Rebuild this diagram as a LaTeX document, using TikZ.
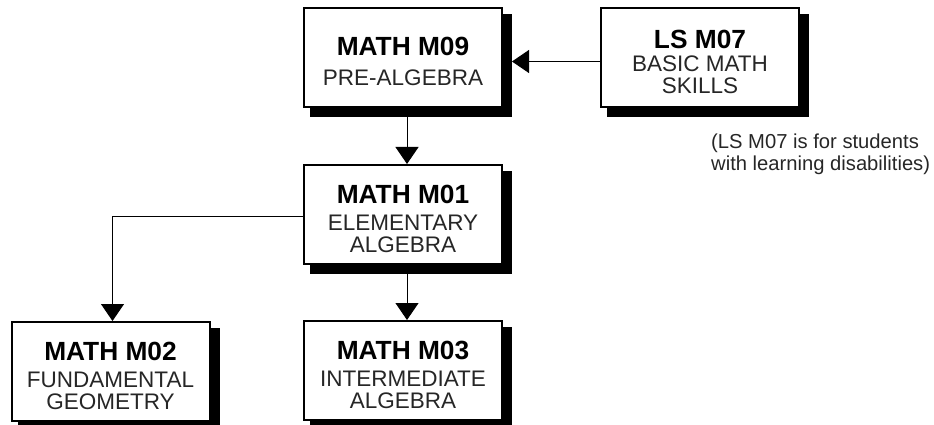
\documentclass[tikz,border=0pt]{standalone}
\usepackage{fontspec}
\setmainfont{Liberation Sans}
\usetikzlibrary{arrows.meta,backgrounds}
\tikzset{
  course/.style={draw=black, line width=2pt, fill=white, minimum width=198pt, minimum height=99pt,
    inner sep=0pt, align=center, font=\fontsize{22.5}{22}\selectfont\color{black!85}},
  shade/.style={fill=black, draw=black, line width=2pt},
  conn/.style={line width=1pt, -{Triangle[length=17pt,width=23pt]}},
  note/.style={align=left, inner sep=0pt, font=\fontsize{20.2}{22}\selectfont\color{black!85}}
}
\newcommand{\ctitle}[1]{{\fontsize{26.3}{22}\selectfont\bfseries\color{black}\rule{0pt}{27pt}#1}}
\begin{document}
\begin{tikzpicture}[x=1pt,y=-1pt]
\useasboundingbox (0,0) rectangle (934,425);
\node[course] (m09) at (403,57.5) {\ctitle{MATH M09}\\[8pt]PRE-ALGEBRA};
\node[course] (ls) at (700,57.5) {\ctitle{LS M07}\\[1pt]BASIC MATH\\SKILLS};
\node[course] (m01) at (403,214.5) {\ctitle{MATH M01}\\[5pt]ELEMENTARY\\ALGEBRA};
\node[course] (m03) at (403,370.5) {\ctitle{MATH M03}\\[5pt]INTERMEDIATE\\ALGEBRA};
\node[course] (m02) at (110.5,371.5) {\ctitle{MATH M02}\\[5pt]FUNDAMENTAL\\GEOMETRY};
\begin{scope}[on background layer]
\foreach \n in {m09,ls,m01,m03,m02}
  \filldraw[shade] ([xshift=8pt,yshift=-8pt]\n.south west) rectangle ([xshift=8pt,yshift=-8pt]\n.north east);
\end{scope}
\node[note, anchor=north west] (nt) at (711,134) {(LS M07 is for students\\with learning disabilities)};
\draw[conn] ([yshift=-4pt]ls.west) -- ([xshift=9pt,yshift=-4pt]m09.east);
\draw[conn] ([xshift=4pt,yshift=-8pt]m09.south) -- ([xshift=4pt]m01.north);
\draw[conn] ([xshift=4pt,yshift=-8pt]m01.south) -- ([xshift=4pt]m03.north);
\draw[conn] ([yshift=-2pt]m01.west) -| ([xshift=2pt]m02.north);
\end{tikzpicture}
\end{document}
